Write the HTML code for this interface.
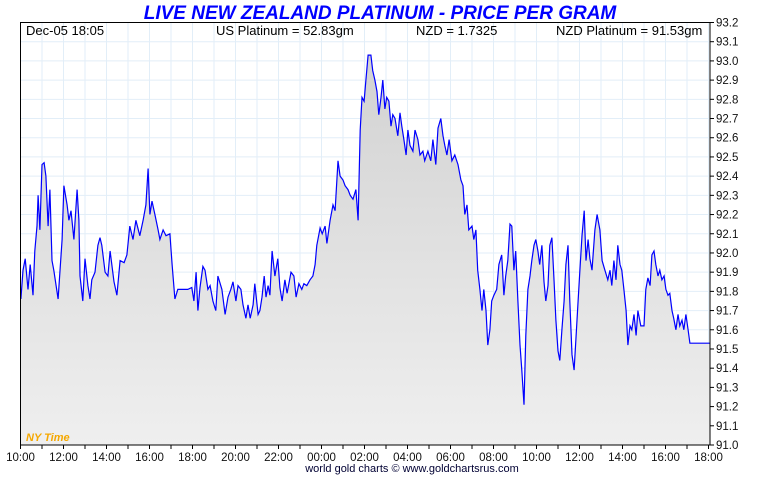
<!DOCTYPE html>
<html><head><meta charset="utf-8">
<style>
body{margin:0;background:#fff;width:760px;height:475px;overflow:hidden;font-family:"Liberation Sans",sans-serif}
svg text{font-family:"Liberation Sans",sans-serif}
</style></head>
<body>
<svg id="chart" width="760" height="475" viewBox="0 0 760 475" xmlns="http://www.w3.org/2000/svg">
<defs>
<linearGradient id="fillGrad" x1="0" y1="0" x2="0" y2="1">
<stop offset="0" stop-color="#d2d2d2"/><stop offset="1" stop-color="#efefef"/>
</linearGradient>
</defs>
<text x="380" y="19" text-anchor="middle" font-size="19" font-weight="bold" font-style="italic" fill="#0000ff">LIVE NEW ZEALAND PLATINUM - PRICE PER GRAM</text>
<g id="grid"></g>
<path id="area" fill="url(#fillGrad)"/>
<path id="line" fill="none" stroke="#0000ff" stroke-width="1.2"/>
<rect x="20.5" y="22.5" width="689.5" height="422.5" fill="none" stroke="#000" stroke-width="1"/>
<text x="26" y="35" font-size="13">Dec-05  18:05</text>
<text x="216" y="35" font-size="13">US Platinum = 52.83gm</text>
<text x="416" y="35" font-size="13">NZD = 1.7325</text>
<text x="556" y="35" font-size="13">NZD Platinum = 91.53gm</text>
<text x="26" y="441" font-size="11" font-style="italic" font-weight="bold" fill="#f5a800">NY Time</text>
<g id="yaxis"></g>
<g id="xaxis"></g>
<text x="412" y="472" text-anchor="middle" font-size="11" fill="#000033">world gold charts © www.goldchartsrus.com</text>
</svg>
<script>
// minutes since 10:00 NY time
const times = [1,7,13,21,27,35,40,46,49,54,60,66,71,77,82,88,93,105,116,121,130,135,141,149,158,163,166,174,180,188,194,199,208,216,222,227,236,244,250,261,269,278,289,297,305,314,322,333,342,350,356,361,367,375,384,389,398,406,417,423,431,439,451,467,478,484,490,495,501,509,515,523,529,537,545,551,562,571,579,587,593,601,607,615,621,629,635,641,649,654,663,668,674,680,685,691,696,702,710,718,724,730,738,744,755,763,769,777,785,791,799,808,816,822,827,836,842,850,855,864,872,878,886,892,900,906,914,920,928,936,942,948,953,959,964,970,978,983,989,995,1000,1006,1011,1017,1022,1028,1034,1039,1045,1053,1059,1064,1070,1076,1081,1087,1095,1101,1109,1115,1123,1128,1137,1145,1151,1159,1165,1173,1179,1184,1190,1196,1204,1212,1221,1229,1235,1240,1246,1251,1260,1265,1271,1276,1282,1288,1293,1299,1304,1310,1315,1321,1329,1335,1343,1349,1354,1360,1366,1371,1377,1382,1388,1394,1399,1405,1410,1416,1422,1427,1433,1438,1444,1449,1455,1461,1466,1472,1477,1483,1489,1494,1500,1505,1511,1517,1522,1528,1533,1539,1545,1550,1556,1561,1567,1573,1578,1584,1589,1595,1603,1609,1617,1623,1631,1639,1645,1650,1656,1662,1667,1673,1678,1684,1690,1695,1701,1706,1712,1718,1723,1731,1740,1745,1751,1757,1762,1768,1773,1779,1784,1790,1796,1801,1807,1812,1818,1823,1829,1835,1840,1846,1851,1857,1863,1868,1925];
const prices = [91.76,91.91,91.97,91.81,91.94,91.78,92.01,92.14,92.30,92.12,92.46,92.47,92.40,92.14,92.33,91.96,91.91,91.76,92.07,92.35,92.25,92.17,92.22,92.07,92.33,92.17,91.88,91.75,91.97,91.83,91.76,91.86,91.90,92.04,92.08,92.04,91.90,91.88,92.01,91.85,91.78,91.96,91.95,91.99,92.14,92.07,92.17,92.09,92.17,92.25,92.44,92.20,92.27,92.20,92.12,92.07,92.12,92.09,92.10,91.94,91.76,91.81,91.81,91.81,91.82,91.75,91.90,91.70,91.82,91.93,91.91,91.81,91.83,91.75,91.70,91.88,91.81,91.68,91.77,91.81,91.85,91.75,91.83,91.81,91.73,91.66,91.73,91.66,91.73,91.84,91.68,91.70,91.77,91.88,91.77,91.83,91.78,92.01,91.88,91.97,91.82,91.75,91.86,91.79,91.90,91.88,91.77,91.84,91.81,91.84,91.83,91.86,91.88,91.94,92.04,92.13,92.10,92.14,92.05,92.17,92.25,92.22,92.48,92.40,92.38,92.35,92.33,92.30,92.28,92.33,92.17,92.64,92.81,92.79,92.90,93.03,93.03,92.95,92.90,92.84,92.72,92.81,92.90,92.75,92.81,92.79,92.66,92.72,92.70,92.61,92.73,92.66,92.59,92.51,92.64,92.56,92.53,92.64,92.59,92.51,92.53,92.48,92.53,92.48,92.59,92.46,92.65,92.70,92.61,92.56,92.51,92.59,92.48,92.51,92.46,92.38,92.35,92.20,92.25,92.12,92.14,92.07,92.12,91.91,91.81,91.70,91.81,91.70,91.52,91.60,91.75,91.78,91.81,91.94,91.99,91.78,91.88,91.96,92.15,92.14,91.91,92.01,91.75,91.52,91.39,91.21,91.57,91.81,91.88,91.96,92.04,92.07,92.01,91.94,92.04,91.85,91.75,91.83,92.04,92.08,91.85,91.65,91.49,91.44,91.60,91.75,91.94,92.04,91.75,91.47,91.39,91.55,91.75,91.91,92.09,92.22,91.96,92.07,91.97,91.91,92.12,92.20,92.12,91.96,91.91,91.86,91.91,91.83,91.96,91.86,92.04,91.94,91.91,91.81,91.70,91.52,91.62,91.60,91.68,91.57,91.70,91.62,91.62,91.81,91.87,91.83,91.99,92.01,91.94,91.88,91.91,91.86,91.88,91.81,91.78,91.79,91.70,91.66,91.60,91.68,91.62,91.65,91.60,91.68,91.60,91.53,91.53,91.53];
const yTicks = ["91.0","91.1","91.2","91.3","91.4","91.5","91.6","91.7","91.8","91.9","92.0","92.1","92.2","92.3","92.4","92.5","92.6","92.7","92.8","92.9","93.0","93.1","93.2"];
const xTicks = ["10:00","12:00","14:00","16:00","18:00","20:00","22:00","00:00","02:00","04:00","06:00","08:00","10:00","12:00","14:00","16:00","18:00"];

const L=20.5,R=708.5,T=22.5,B=445;
const X=m=>L+(R-L)*m/1920;
const Y=v=>B-(v-91.0)*(B-T)/2.2;
const NS="http://www.w3.org/2000/svg";
function mk(tag,attrs,parent){const e=document.createElementNS(NS,tag);for(const k in attrs)e.setAttribute(k,attrs[k]);parent.appendChild(e);return e;}
const grid=document.getElementById('grid'),ya=document.getElementById('yaxis'),xa=document.getElementById('xaxis');
for(let h=0;h<=32;h++){
  const x=X(h*60);
  const g=mk('line',{x1:x,x2:x,y1:T,y2:B,stroke:'#e2eef8','stroke-width':1},grid);
  
  
  const t=mk('line',{x1:x,x2:x,y1:B,y2:B+4,stroke:'#000','stroke-width':1},xa);
  
  
}
xTicks.forEach((s,i)=>{
  const t=mk('text',{x:X(i*120),y:461,'text-anchor':'middle','font-size':11.5,fill:'#111'},xa);
  t.textContent=s;
  
  
});
yTicks.forEach(s=>{
  const y=Y(parseFloat(s));
  const g=mk('line',{x1:L,x2:710,y1:y,y2:y,stroke:'#e2eef8','stroke-width':1},grid);
  
  
  const tk=mk('line',{x1:710,x2:714,y1:y,y2:y,stroke:'#000'},ya);
  
  
  const t=mk('text',{x:716,y:y+4,'font-size':11.5,fill:'#111'},ya);
  t.textContent=s;
  
  
});
const n=Math.min(times.length,prices.length);
let d='';
for(let i=0;i<n;i++){d+=(i?'L':'M')+X(times[i]).toFixed(1)+','+Y(prices[i]).toFixed(1);}
document.getElementById('line').setAttribute('d',d);
document.getElementById('area').setAttribute('d',d+'L'+X(times[n-1]).toFixed(1)+','+B+'L'+X(times[0]).toFixed(1)+','+B+'Z');
</script>
</body></html>
